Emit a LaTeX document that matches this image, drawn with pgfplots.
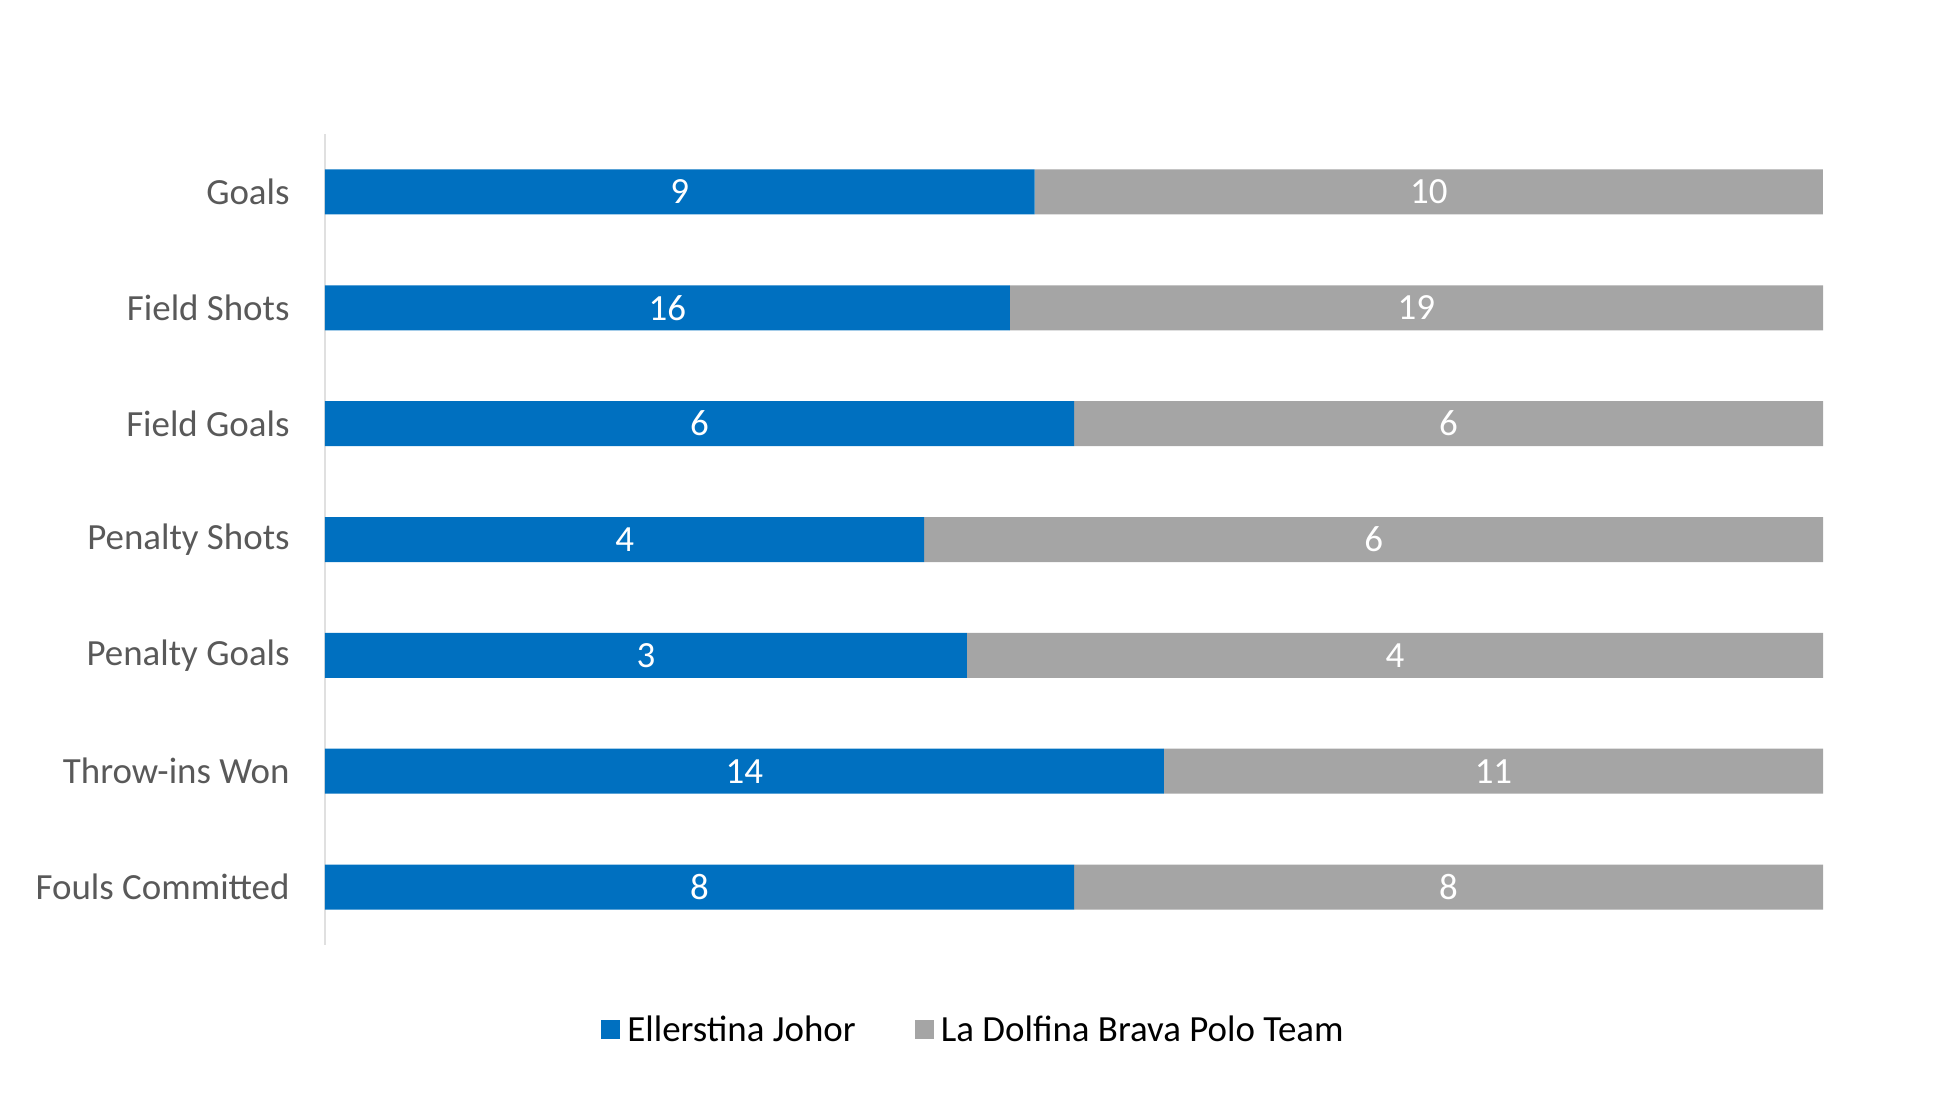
\documentclass[border=0pt]{standalone}
\usepackage{pgfplots}
\pgfplotsset{compat=1.18}
\usepackage{pgfplotstable}
\usepackage{fontspec}
\setmainfont{Carlito}
\definecolor{cblue}{HTML}{0070C0}
\definecolor{cgray}{HTML}{A5A5A5}
\definecolor{ctext}{HTML}{595959}
\pgfplotstableread{
idx a b
0 9 10
1 16 19
2 6 6
3 4 6
4 3 4
5 14 11
6 8 8
}\data
\begin{document}
\begin{tikzpicture}
\useasboundingbox (-3.25cm,-1.55cm) rectangle (16.18cm,9.45cm);
\pgfplotsset{base/.style={
 scale only axis, width=14.98cm, height=8.11cm,
 xmin=0, xmax=100, ymin=-0.5, ymax=6.5, y dir=reverse,
 at={(0,0)}, anchor=south west,
 /pgf/number format/assume math mode=true,
}}
\begin{axis}[base,
 xbar stacked, bar width=4.5mm,
 axis x line=none, axis y line*=left,
 y axis line style={draw=black!12, line width=0.2mm, -},
 ytick={0,...,6},
 yticklabels={Goals,Field Shots,Field Goals,Penalty Shots,Penalty Goals,Throw-ins Won,Fouls Committed},
 major tick length=0pt,
 yticklabel style={font=\fontsize{10.5}{12}\selectfont, text=ctext, xshift=-2.3mm},
 legend style={at={(0.4346,-0.106)}, anchor=center, draw=none, legend columns=2,
   font=\fontsize{10.5}{12}\selectfont,
   /tikz/every even column/.append style={column sep=5.2mm}},
 legend image code/.code={\fill[#1] (0cm,-0.85mm) rectangle (1.9mm,1.05mm);},
 ]
\addplot[fill=cblue, draw=none] table[x expr={100*\thisrow{a}/(\thisrow{a}+\thisrow{b})}, y=idx] {\data};
\addplot[fill=cgray, draw=none] table[x expr={100*\thisrow{b}/(\thisrow{a}+\thisrow{b})}, y=idx] {\data};
\legend{Ellerstina Johor, La Dolfina Brava Polo Team}
\end{axis}
\begin{axis}[base, axis lines=none, ticks=none,
 nodes near coords, point meta=explicit,
 nodes near coords style={font=\fontsize{10.5}{12}\selectfont, text=white, anchor=center}]
\addplot[draw=none, mark=none] table[x expr={50*\thisrow{a}/(\thisrow{a}+\thisrow{b})}, y=idx, meta=a] {\data};
\addplot[draw=none, mark=none] table[x expr={50*(1+\thisrow{a}/(\thisrow{a}+\thisrow{b}))}, y=idx, meta=b] {\data};
\end{axis}
\end{tikzpicture}
\end{document}
